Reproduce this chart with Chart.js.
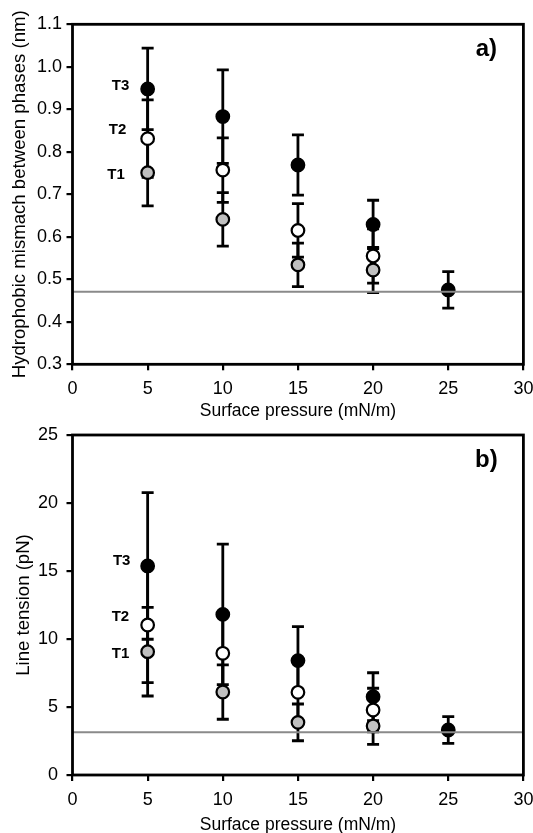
<!DOCTYPE html>
<html>
<head>
<meta charset="utf-8">
<script src="https://cdn.jsdelivr.net/npm/chart.js@4.4.0/dist/chart.umd.min.js"></script>
<style>
  html, body { margin: 0; padding: 0; background: #fff; overflow: hidden; }
  #wrap { position: relative; width: 533px; height: 833px; overflow: hidden; }
  canvas { position: absolute; left: 0; }
  #mismatchChart { top: 0; }
  #tensionChart { top: 410px; }
</style>
</head>
<body>
<div id="wrap">
  <canvas id="mismatchChart" width="533" height="430"></canvas>
  <canvas id="tensionChart" width="533" height="430"></canvas>
</div>
<script>
const pressure = [5, 10, 15, 20, 25];

// a) hydrophobic mismatch (nm)
const mismatchT1 = [0.751, 0.641, 0.534, 0.522, null];
const mismatchT1Err = [0.078, 0.063, 0.051, 0.053, null];
const mismatchT2 = [0.831, 0.757, 0.615, 0.555, null];
const mismatchT2Err = [0.091, 0.076, 0.063, 0.064, null];
const mismatchT3 = [0.948, 0.883, 0.769, 0.629, 0.475];
const mismatchT3Err = [0.096, 0.110, 0.071, 0.057, 0.043];
const mismatchLimit = 0.471;

// b) line tension (pN)
const tensionT1 = [9.07, 6.10, 3.87, 3.60, null];
const tensionT1Err = [3.26, 2.0, 1.35, 1.35, null];
const tensionT2 = [11.03, 8.95, 6.08, 4.78, null];
const tensionT2Err = [4.24, 2.84, 2.2, 1.6, null];
const tensionT3 = [15.37, 11.81, 8.41, 5.76, 3.31];
const tensionT3Err = [5.39, 5.17, 2.5, 1.76, 0.98];
const tensionLimit = 3.14;

const seriesNames = ['T3', 'T2', 'T1'];
const xTicks = [0, 5, 10, 15, 20, 25, 30];

Chart.defaults.font.family = '"Liberation Sans", Arial, sans-serif';
Chart.defaults.color = '#000';

const toPoints = (ys) => pressure.map((x, i) => ({ x: x, y: ys[i] })).filter(p => p.y !== null);

// error bars, horizontal reference line, series tags, panel letter
const extras = {
    id: 'extras',
    beforeDatasetsDraw(chart, args, opts) {
        const { ctx } = chart;
        const xs = chart.scales.x, ys = chart.scales.y;
        ctx.save();
        ctx.strokeStyle = '#000';
        ctx.lineWidth = 2.8;
        opts.values.forEach((vals, s) => {
            vals.forEach((v, i) => {
                const e = opts.errors[s][i];
                if (v === null || e === null) return;
                const px = xs.getPixelForValue(pressure[i]);
                const top = ys.getPixelForValue(v + e);
                const bot = ys.getPixelForValue(v - e);
                ctx.beginPath();
                ctx.moveTo(px, top); ctx.lineTo(px, bot);
                ctx.moveTo(px - 6, top); ctx.lineTo(px + 6, top);
                ctx.moveTo(px - 6, bot); ctx.lineTo(px + 6, bot);
                ctx.stroke();
            });
        });
        ctx.restore();
    },
    afterDatasetsDraw(chart, args, opts) {
        const { ctx, chartArea } = chart;
        const xs = chart.scales.x, ys = chart.scales.y;
        ctx.save();
        // reference line
        const ly = ys.getPixelForValue(opts.limit);
        ctx.strokeStyle = '#8a8a8a';
        ctx.lineWidth = 2;
        ctx.beginPath();
        ctx.moveTo(chartArea.left, ly); ctx.lineTo(chartArea.right, ly);
        ctx.stroke();
        // frame
        ctx.strokeStyle = '#000';
        ctx.lineWidth = 2.8;
        ctx.strokeRect(chartArea.left, chartArea.top, chartArea.right - chartArea.left, chartArea.bottom - chartArea.top);
        // tags
        ctx.fillStyle = '#000';
        ctx.textAlign = 'center';
        ctx.textBaseline = 'middle';
        ctx.font = 'bold 15px "Liberation Sans", Arial, sans-serif';
        opts.tags.forEach((t, i) => {
            ctx.fillText(seriesNames[i], xs.getPixelForValue(t[0]), ys.getPixelForValue(t[1]));
        });
        ctx.font = 'bold 24px "Liberation Sans", Arial, sans-serif';
        ctx.fillText(opts.panel, chartArea.right - 37, chartArea.top + 25);
        ctx.restore();
    }
};

function makeChart(id, cfg) {
    return new Chart(id, {
        type: 'scatter',
        data: {
            datasets: [
                { label: 'T3', data: toPoints(cfg.values[0]), backgroundColor: '#000', borderColor: '#000' },
                { label: 'T2', data: toPoints(cfg.values[1]), backgroundColor: '#fff', borderColor: '#000' },
                { label: 'T1', data: toPoints(cfg.values[2]), backgroundColor: '#c0c0c0', borderColor: '#000' }
            ]
        },
        options: {
            responsive: false,
            animation: false,
            devicePixelRatio: 1,
            elements: { point: { radius: 6.3, borderWidth: 2.2, hoverRadius: 6.3 } },
            layout: { padding: { top: cfg.top, right: 533 - 523.4, left: 0, bottom: 0 } },
            plugins: {
                legend: { display: false },
                tooltip: { enabled: false },
                extras: { values: cfg.values, errors: cfg.errors, limit: cfg.limit, tags: cfg.tags, panel: cfg.panel }
            },
            scales: {
                x: {
                    type: 'linear',
                    min: 0, max: 30,
                    afterBuildTicks: (s) => { s.ticks = xTicks.map(v => ({ value: v })); },
                    afterFit: (s) => { s.height = cfg.xHeight; s.paddingLeft = 0; s.paddingRight = 0; },
                    grid: { drawOnChartArea: false, drawTicks: true, tickLength: 6, color: '#000', lineWidth: 2.2 },
                    border: { display: false },
                    ticks: { font: { size: 18 }, padding: 8, maxRotation: 0 },
                    title: { display: true, text: 'Surface pressure (mN/m)', font: { size: 17.5, lineHeight: 1 }, padding: { top: 0, bottom: cfg.xTitlePad } }
                },
                y: {
                    min: cfg.yMin, max: cfg.yMax,
                    ticks: { stepSize: cfg.yStep, font: { size: 18 }, padding: cfg.yTickPad, callback: cfg.yFormat },
                    afterFit: (s) => { s.width = 72.5; s.paddingTop = 0; s.paddingBottom = 0; },
                    grid: { drawOnChartArea: false, drawTicks: true, tickLength: 6, color: '#000', lineWidth: 2.2 },
                    border: { display: false },
                    title: { display: true, text: cfg.yTitle, font: { size: 18.6, lineHeight: 1 }, padding: { top: cfg.yTitlePad, bottom: 0 } }
                }
            }
        },
        plugins: [extras]
    });
}

makeChart('mismatchChart', {
    values: [mismatchT3, mismatchT2, mismatchT1],
    errors: [mismatchT3Err, mismatchT2Err, mismatchT1Err],
    limit: mismatchLimit,
    tags: [[3.2, 0.956], [3.0, 0.851], [2.9, 0.746]],
    panel: 'a)',
    top: 24.3, xHeight: 65.7, xTitlePad: 10,
    yMin: 0.3, yMax: 1.1, yStep: 0.1, yTickPad: 4.5, yTitlePad: 10.5,
    yFormat: (v) => v.toFixed(1),
    yTitle: 'Hydrophobic mismach between phases (nm)'
});

makeChart('tensionChart', {
    values: [tensionT3, tensionT2, tensionT1],
    errors: [tensionT3Err, tensionT2Err, tensionT1Err],
    limit: tensionLimit,
    tags: [[3.27, 15.74], [3.19, 11.62], [3.2, 8.9]],
    panel: 'b)',
    top: 25, xHeight: 65, xTitlePad: 6,
    yMin: 0, yMax: 25, yStep: 5, yTickPad: 8.5, yTitlePad: 15,
    yFormat: (v) => v,
    yTitle: 'Line tension (pN)'
});
</script>
</body>
</html>
